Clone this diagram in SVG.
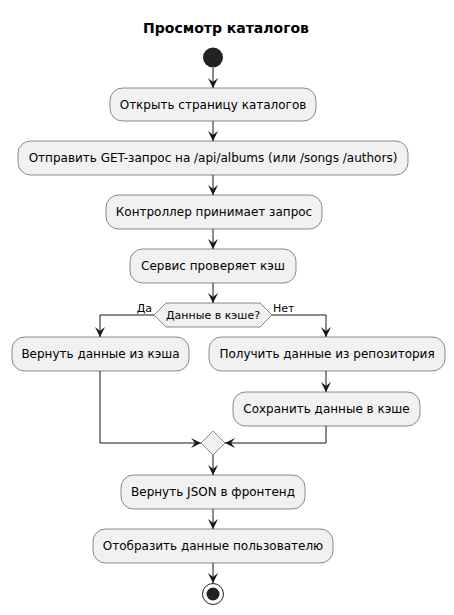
<svg xmlns="http://www.w3.org/2000/svg" width="454" height="615" viewBox="0 0 454 615">
<defs>
<style>
.box{fill:#F1F1F1;stroke:#181818;stroke-width:0.5}
.t{font-family:"DejaVu Sans","Liberation Sans",sans-serif;font-size:12px;fill:#000;text-anchor:middle}
.s{font-family:"DejaVu Sans","Liberation Sans",sans-serif;font-size:11px;fill:#000}
.ln{fill:none;stroke:#181818;stroke-width:1}
.title{font-family:"DejaVu Sans","Liberation Sans",sans-serif;font-size:14px;font-weight:bold;text-anchor:middle}
</style>
<marker id="ah" viewBox="0 0 10 10" refX="10" refY="5" markerWidth="10" markerHeight="10" markerUnits="userSpaceOnUse" orient="auto">
<polygon points="0,0 10,5 0,10 4,5" fill="#181818"/>
</marker>
</defs>
<rect width="454" height="615" fill="#FFFFFF"/>
<text class="title" x="226" y="33">Просмотр каталогов</text>

<g id="connectors">
<line class="ln" x1="213" y1="68" x2="213" y2="88" marker-end="url(#ah)"/>
<line class="ln" x1="213" y1="121" x2="213" y2="141" marker-end="url(#ah)"/>
<line class="ln" x1="213" y1="175" x2="213" y2="195" marker-end="url(#ah)"/>
<line class="ln" x1="213" y1="229" x2="213" y2="249" marker-end="url(#ah)"/>
<line class="ln" x1="213" y1="283" x2="213" y2="303" marker-end="url(#ah)"/>
<polyline class="ln" points="154,315 100,315 100,337" marker-end="url(#ah)"/>
<polyline class="ln" points="272,315 326,315 326,337" marker-end="url(#ah)"/>
<line class="ln" x1="326" y1="371" x2="326" y2="392" marker-end="url(#ah)"/>
<polyline class="ln" points="100,371 100,443 201,443" marker-end="url(#ah)"/>
<polyline class="ln" points="326,426 326,443 225,443" marker-end="url(#ah)"/>
<line class="ln" x1="213" y1="455" x2="213" y2="475" marker-end="url(#ah)"/>
<line class="ln" x1="213" y1="509" x2="213" y2="529" marker-end="url(#ah)"/>
<line class="ln" x1="213" y1="563" x2="213" y2="583" marker-end="url(#ah)"/>
<text class="s" x="152" y="312" text-anchor="end">Да</text>
<text class="s" x="273" y="312">Нет</text>
</g>

<g id="start"><circle cx="213" cy="57.5" r="10" fill="#222222"/></g>

<g id="n1"><rect class="box" x="110" y="88" width="206" height="33" rx="12.5"/><text class="t" x="213" y="109">Открыть страницу каталогов</text></g>
<g id="n2"><rect class="box" x="18" y="141" width="390" height="34" rx="12.5"/><text class="t" x="213" y="162">Отправить GET-запрос на /api/albums (или /songs /authors)</text></g>
<g id="n3"><rect class="box" x="106" y="195" width="216" height="34" rx="12.5"/><text class="t" x="214" y="216">Контроллер принимает запрос</text></g>
<g id="n4"><rect class="box" x="130" y="249" width="166" height="34" rx="12.5"/><text class="t" x="213" y="270">Сервис проверяет кэш</text></g>
<g id="d1"><polygon class="box" points="154,315 166,303 260,303 272,315 260,327 166,327"/><text class="s" x="213" y="319" text-anchor="middle">Данные в кэше?</text></g>
<g id="n5"><rect class="box" x="12" y="337" width="177" height="34" rx="12.5"/><text class="t" x="100.5" y="358">Вернуть данные из кэша</text></g>
<g id="n6"><rect class="box" x="209" y="337" width="236" height="34" rx="12.5"/><text class="t" x="327" y="358">Получить данные из репозитория</text></g>
<g id="n7"><rect class="box" x="233" y="392" width="187" height="34" rx="12.5"/><text class="t" x="326.5" y="413">Сохранить данные в кэше</text></g>
<g id="m1"><polygon class="box" points="213,431 225,443 213,455 201,443"/></g>
<g id="n8"><rect class="box" x="121" y="475" width="184" height="34" rx="12.5"/><text class="t" x="213" y="496">Вернуть JSON в фронтенд</text></g>
<g id="n9"><rect class="box" x="93" y="529" width="240" height="34" rx="12.5"/><text class="t" x="213" y="550">Отобразить данные пользователю</text></g>
<g id="end"><circle cx="213" cy="594" r="10.5" fill="none" stroke="#222222" stroke-width="1"/><circle cx="213" cy="594" r="6.5" fill="#222222"/></g>
</svg>
